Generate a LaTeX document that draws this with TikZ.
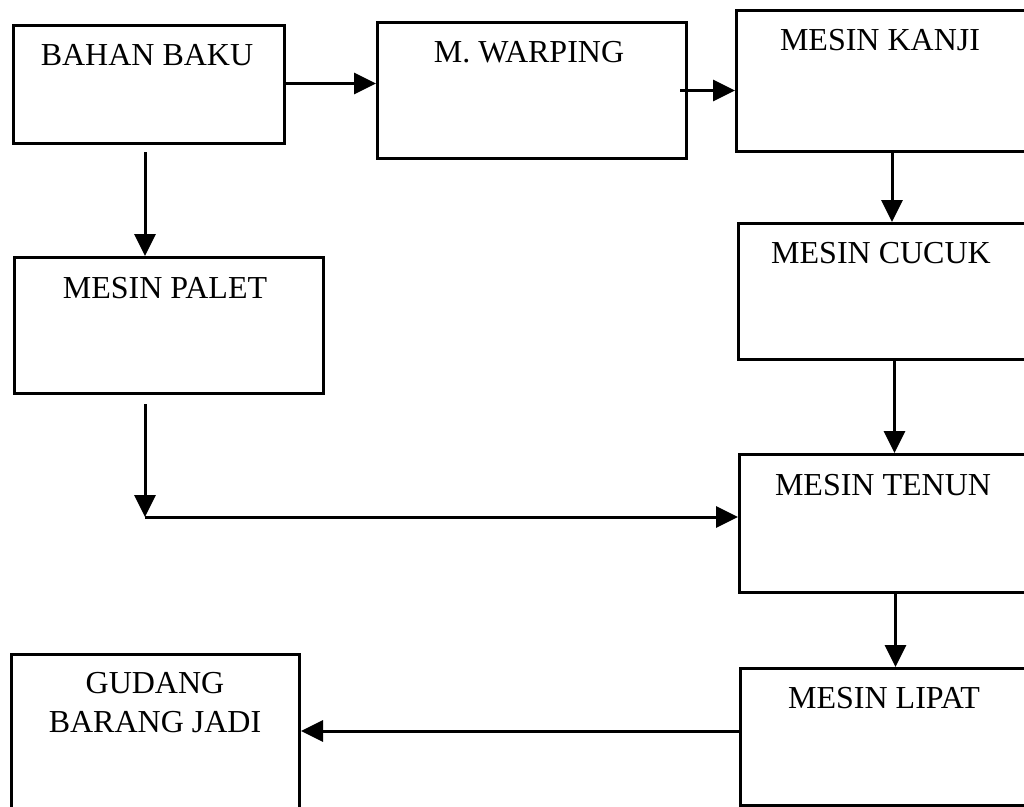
\documentclass[tikz,border=0pt]{standalone}
\usepackage{fontspec}
\setmainfont{Liberation Serif}
\usetikzlibrary{arrows.meta}
\begin{document}
\begin{tikzpicture}[x=1pt,y=-1pt,
  box/.style={draw, line width=3pt, rectangle, anchor=north west, inner sep=0pt},
  lbl/.style={anchor=base, inner sep=0pt, align=center,
              font=\fontsize{32}{39}\selectfont},
  arr/.style={line width=3pt, -{Triangle[length=22pt,width=21pt]}},
  lin/.style={line width=3pt}]
\useasboundingbox (0,0) rectangle (1024,806);
\clip (0,0) rectangle (1024,806);
\fill[white] (0,0) rectangle (1024,806);

% process boxes
\node[box, minimum width=271pt, minimum height=118pt] (bb) at (12,24) {};
\node[box, minimum width=309pt, minimum height=136pt] (wp) at (376,21) {};
\node[box, minimum width=293pt, minimum height=141pt] (kj) at (735,9) {};
\node[box, minimum width=291pt, minimum height=136pt] (cc) at (737,222) {};
\node[box, minimum width=290pt, minimum height=138pt] (tn) at (738,453) {};
\node[box, minimum width=289pt, minimum height=137pt] (lp) at (739,667) {};
\node[box, minimum width=309pt, minimum height=136pt] (pl) at (13,256) {};
\node[box, minimum width=288pt, minimum height=170pt] (gd) at (10,653) {};

% box titles (anchored on the baseline of the last line)
\node[lbl] (tbb) at (147,65)  {BAHAN BAKU};
\node[lbl] (twp) at (529,62)  {M. WARPING};
\node[lbl] (tkj) at (880,50)  {MESIN KANJI};
\node[lbl] (tcc) at (881,263) {MESIN CUCUK};
\node[lbl] (ttn) at (883,495) {MESIN TENUN};
\node[lbl] (tlp) at (884,708) {MESIN LIPAT};
\node[lbl] (tpl) at (165,298) {MESIN PALET};
\node[lbl] (tgd) at (155,732) {GUDANG\\BARANG JADI};

% flow connectors
\draw[arr] ([yshift=1pt]bb.east) -- ([yshift=1pt]bb.east -| wp.west);
\draw[arr] ([xshift=-8pt]wp.east) -- (wp.east -| kj.west);
\draw[arr] ([xshift=-4pt,yshift=-7pt]bb.south) -- ([xshift=-4pt]bb.south |- pl.north);
\draw[arr] ([xshift=9pt]kj.south) -- ([xshift=9pt]kj.south |- cc.north);
\draw[arr] ([xshift=10.5pt]cc.south) -- ([xshift=10.5pt]cc.south |- tn.north);
\draw[arr] ([xshift=11pt]tn.south) -- ([xshift=11pt]tn.south |- lp.north);

\coordinate (bend) at (145,517);
\draw[arr] ([yshift=-9pt]pl.south -| bend) -- (bend);
\draw[arr] (bend) -- (bend -| tn.west);

\draw[arr] ([yshift=6pt]lp.west) -- ([yshift=6pt]lp.west -| gd.east);
\end{tikzpicture}
\end{document}
